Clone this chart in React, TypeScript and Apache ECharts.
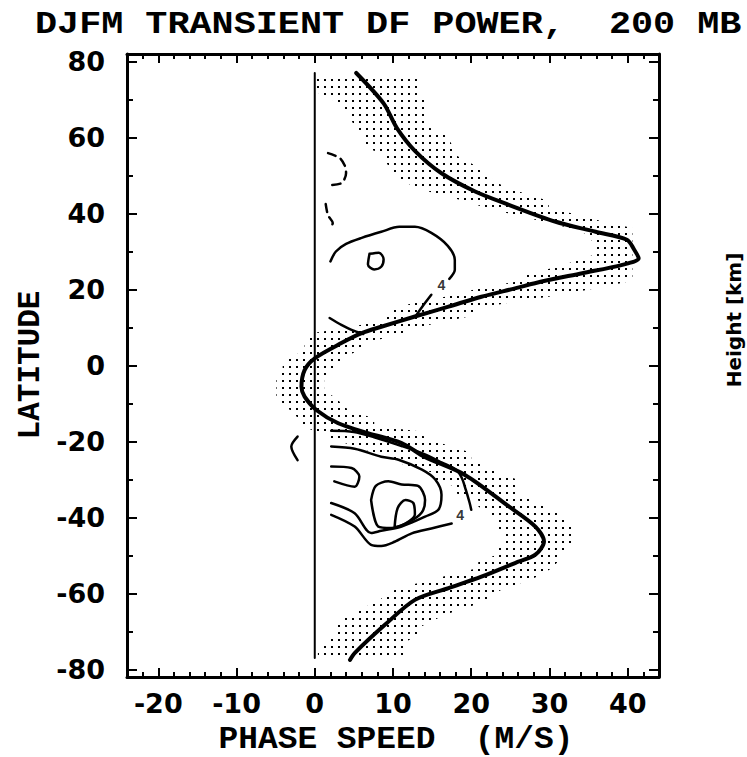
import React, { useEffect, useRef } from 'react';
import * as echarts from 'echarts';

const TITLE = 'DJFM TRANSIENT DF POWER,  200 MB';
const X_TITLE = 'PHASE SPEED  (M/S)';
const Y_TITLE = 'LATITUDE';
const SIDE_TITLE = 'Height [km]';

const X_MIN = -24;
const X_MAX = 44;
const Y_MIN = -82;
const Y_MAX = 82;
const xMajorTicks = [-20, -10, 0, 10, 20, 30, 40];
const xMinorTicks = [-24, -22, -20, -18, -16, -14, -12, -10, -8, -6, -4, -2, 0, 2, 4, 6, 8, 10, 12, 14, 16, 18, 20, 22, 24, 26, 28, 30, 32, 34, 36, 38, 40, 42, 44];
const yMajorTicks = [-80, -60, -40, -20, 0, 20, 40, 60, 80];
const yMinorTicks = [-80, -70, -60, -50, -40, -30, -20, -10, 0, 10, 20, 30, 40, 50, 60, 70, 80];

// Mean-flow profile, north to south: latitude (deg) and speed (m/s)
const profileLat = [77.0, 69.0, 62.5, 56.5, 50.6, 45.8, 42.3, 37.9, 35.2, 33.1, 30.6, 28.2, 26.5, 24.3, 22.1, 20.3, 18.1, 15.5, 12.9, 10.2, 8.5, 5.9, 1.9, -1.2, -5.6, -8.2, -11.7, -15.2, -17.8, -20.4, -24.0, -28.8, -37.1, -42.4, -46.3, -49.8, -52.0, -55.6, -58.6, -61.7, -68.2, -75.7, -77.5];
const profileSpeed = [5.3, 8.8, 10.5, 12.8, 16.2, 20.5, 24.8, 30.7, 35.9, 39.9, 40.8, 41.4, 39.3, 34.2, 29.0, 25.6, 21.3, 17.1, 12.8, 8.5, 6.0, 3.4, 0.0, -1.3, -1.7, -1.3, 0.2, 3.0, 6.8, 11.1, 14.0, 19.2, 24.8, 28.2, 29.3, 28.2, 25.6, 21.3, 17.1, 12.8, 9.0, 5.1, 4.5];

// Stippled band: latitude with its west and east edges (m/s)
const bandLat = [76.2, 71.8, 69.9, 66.4, 62.7, 61.0, 57.4, 55.7, 53.9, 51.9, 48.5, 46.8, 45.0, 43.3, 41.5, 39.8, 38.0, 36.2, 34.4, 31.0, 29.3, 27.5, 25.8, 24.0, 22.3, 20.5, 18.5, 16.8, 15.0, 13.2, 11.3, 9.5, 8.5, 5.9, 4.1, 2.2, 0.4, -1.3, -3.3, -6.9, -8.6, -10.4, -12.1, -13.9, -15.9, -17.4, -19.2, -21.0, -23.0, -24.8, -26.6, -28.3, -30.1, -31.9, -33.6, -35.4, -37.1, -39.0, -41.0, -42.8, -44.6, -46.3, -48.1, -49.8, -51.6, -53.3, -55.1, -56.9, -58.6, -60.4, -62.1, -63.9, -65.6, -67.4, -69.1, -70.9, -72.9, -74.8, -77.0];
const bandWest = [-0.4, 0.4, 2.3, 4.3, 5.1, 6.0, 6.2, 9.0, 9.0, 9.6, 11.3, 13.0, 15.8, 19.2, 21.8, 25.2, 29.0, 32.5, 35.0, 35.9, 35.9, 33.3, 30.8, 26.5, 26.5, 21.2, 17.7, 13.3, 9.8, 9.8, 7.6, 2.6, -0.4, -1.3, -1.3, -3.0, -4.1, -4.1, -4.9, -4.9, -4.9, -3.8, -3.0, -2.1, -2.1, 0.4, 2.1, 4.7, 7.7, 10.5, 11.6, 15.4, 15.4, 18.0, 18.0, 20.9, 20.9, 22.2, 23.1, 23.1, 24.2, 24.2, 23.5, 23.3, 20.9, 20.9, 17.3, 13.9, 10.7, 9.0, 8.1, 6.0, 4.7, 3.0, 2.6, 2.6, 1.3, 0.4, 0.4];
const bandEast = [13.2, 13.2, 14.1, 14.1, 14.5, 16.8, 17.7, 17.7, 19.4, 21.1, 23.0, 24.5, 27.3, 29.9, 29.9, 33.3, 36.7, 40.6, 40.6, 40.6, 40.6, 40.6, 40.6, 40.6, 40.6, 36.3, 31.1, 25.6, 20.7, 20.5, 16.0, 11.9, 11.5, 6.4, 5.7, 3.8, 2.9, 2.1, 1.2, 1.2, 2.9, 3.4, 4.7, 7.6, 7.6, 13.6, 14.1, 17.0, 20.0, 20.0, 21.7, 23.4, 26.0, 26.0, 26.0, 27.7, 29.4, 31.1, 32.0, 32.9, 33.1, 33.1, 32.2, 31.6, 31.1, 30.3, 29.0, 26.9, 24.3, 22.6, 21.7, 19.2, 16.6, 14.9, 13.2, 13.2, 11.5, 11.5, 11.4];

// Zero phase-speed reference line
const zeroLine = [[0, -77], [0, 77]];

// Power contours as [speed, latitude] runs
const contoursSolid: number[][][] = [
  [[2.0, 27.4], [2.7, 30.0], [4.0, 32.0], [6.0, 33.6], [8.5, 35.2], [10.8, 36.5], [12.8, 36.5], [14.9, 34.9], [17.0, 31.5], [17.9, 27.8], [17.9, 25.2], [17.2, 22.8]],
  [[14.9, 18.6], [13.9, 15.9], [13.0, 13.3]],
  [[1.9, 12.5], [3.4, 10.7], [4.7, 9.4], [6.2, 8.3]],
  [[7.0, 29.4], [8.2, 29.7], [8.8, 28.0], [8.5, 26.0], [7.6, 25.3], [6.8, 26.6], [7.0, 29.4]],
  [[-2.2, -18.7], [-3.0, -21.3], [-2.2, -24.9]],
  [[2.1, -17.2], [5.0, -17.5], [7.6, -18.9], [11.1, -21.2], [13.7, -23.1], [16.2, -25.5], [18.1, -27.5], [18.8, -29.6], [19.3, -32.7], [19.8, -36.2], [20.0, -38.0]],
  [[17.5, -41.6], [14.9, -42.9], [12.4, -44.2], [10.2, -46.4], [8.5, -47.5], [7.2, -47.2], [5.1, -42.4], [2.1, -39.3]],
  [[2.1, -21.3], [5.1, -21.9], [8.5, -24.0], [10.7, -24.8], [13.7, -27.4], [15.4, -30.0], [16.2, -34.0], [15.8, -38.0], [14.1, -39.8], [11.1, -42.4], [8.5, -43.5], [7.2, -44.1], [5.1, -38.9], [2.1, -36.2]],
  [[2.1, -26.6], [4.7, -27.0], [5.7, -29.2], [5.1, -31.9], [2.5, -30.5]],
  [[7.2, -35.4], [7.8, -31.7], [9.4, -30.5], [11.1, -31.3], [13.2, -31.7], [14.1, -35.4], [13.7, -38.6], [12.0, -41.2], [9.8, -42.8], [8.1, -42.4], [7.2, -35.4]],
  [[10.2, -42.6], [10.6, -37.5], [11.6, -35.4], [12.6, -36.2], [12.8, -39.2], [11.6, -41.6], [10.2, -42.6]],
];
const contoursDashed: number[][][] = [
  [[1.7, 55.9], [3.2, 54.6], [3.9, 52.3], [4.0, 50.6], [3.4, 48.0], [1.7, 47.5]],
  [[1.4, 42.5], [1.7, 39.5], [2.3, 37.5], [1.9, 36.0]],
];
// Contour value tags
const contourTags = [[16.2, 20.8], [18.6, -39.7]];
const contourTagText = '4';

const MONO = 'Liberation Mono';
const SANS = 'DejaVu Sans';

const pair = (lat: number[], spd: number[]) => lat.map((y, i) => [spd[i], y]);

function makeStipple() {
  const c = document.createElement('canvas');
  c.width = 7;
  c.height = 7;
  const ctx = c.getContext('2d')!;
  ctx.fillStyle = '#000';
  ctx.fillRect(2, 2, 2, 2);
  return { image: c.toDataURL(), repeat: 'repeat', imageWidth: 7, imageHeight: 7 };
}

export default function App() {
  const ref = useRef<HTMLDivElement>(null);

  useEffect(() => {
    if (!ref.current) return;
    const chart = echarts.init(ref.current, undefined, { renderer: 'svg' });
    const stipple = makeStipple();

    const bandPolygon = [
      ...pair(bandLat, bandWest),
      ...pair(bandLat, bandEast).reverse(),
    ];

    const axisLine = { show: true, onZero: false, lineStyle: { color: '#000', width: 3 } };
    const tickStyle = { color: '#000', width: 2 };
    const labelStyle = { color: '#000', fontFamily: SANS, fontWeight: 'bold' as const, fontSize: 27 };

    const xAxisBase = { type: 'value' as const, min: X_MIN, max: X_MAX, gridIndex: 0, splitLine: { show: false } };
    const yAxisBase = { type: 'value' as const, min: Y_MIN, max: Y_MAX, gridIndex: 0, splitLine: { show: false } };

    const lineSeries = (data: number[][], width: number, dashed = false, z = 4) => ({
      type: 'line' as const,
      data,
      symbol: 'none',
      smooth: 0.3,
      silent: true,
      z,
      lineStyle: { color: '#000', width, type: dashed ? [8, 6] : 'solid', cap: 'round', join: 'round' },
    });

    chart.setOption({
      animation: false,
      backgroundColor: '#fff',
      grid: { left: 127, top: 54, width: 532, height: 623, containLabel: false },
      xAxis: [
        {
          ...xAxisBase, position: 'bottom', axisLine,
          axisTick: { show: true, inside: true, length: 9, customValues: xMajorTicks, lineStyle: tickStyle },
          axisLabel: { show: true, customValues: xMajorTicks, margin: 13, ...labelStyle },
        },
        {
          ...xAxisBase, position: 'bottom', axisLine: { show: false, onZero: false },
          axisTick: { show: true, inside: true, length: 5, customValues: xMinorTicks, lineStyle: tickStyle },
          axisLabel: { show: false },
        },
        {
          ...xAxisBase, position: 'top', axisLine,
          axisTick: { show: true, inside: true, length: 9, customValues: xMajorTicks, lineStyle: tickStyle },
          axisLabel: { show: false },
        },
        {
          ...xAxisBase, position: 'top', axisLine: { show: false, onZero: false },
          axisTick: { show: true, inside: true, length: 5, customValues: xMinorTicks, lineStyle: tickStyle },
          axisLabel: { show: false },
        },
      ],
      yAxis: [
        {
          ...yAxisBase, position: 'left', axisLine,
          axisTick: { show: true, inside: true, length: 10, customValues: yMajorTicks, lineStyle: tickStyle },
          axisLabel: { show: true, customValues: yMajorTicks, margin: 22, ...labelStyle },
        },
        {
          ...yAxisBase, position: 'left', axisLine: { show: false, onZero: false },
          axisTick: { show: true, inside: true, length: 6, customValues: yMinorTicks, lineStyle: tickStyle },
          axisLabel: { show: false },
        },
        {
          ...yAxisBase, position: 'right', axisLine,
          axisTick: { show: true, inside: true, length: 10, customValues: yMajorTicks, lineStyle: tickStyle },
          axisLabel: { show: false },
        },
        {
          ...yAxisBase, position: 'right', axisLine: { show: false, onZero: false },
          axisTick: { show: true, inside: true, length: 6, customValues: yMinorTicks, lineStyle: tickStyle },
          axisLabel: { show: false },
        },
      ],
      series: [
        {
          type: 'custom',
          silent: true,
          z: 1,
          data: [[0, 0]],
          renderItem: (_params: any, api: any) => ({
            type: 'polygon',
            shape: { points: bandPolygon.map((p) => api.coord(p)) },
            style: { fill: stipple, stroke: null },
          }),
        },
        lineSeries(zeroLine, 2, false, 3),
        lineSeries(pair(profileLat, profileSpeed), 4, false, 5),
        ...contoursSolid.map((c) => lineSeries(c, 2.5)),
        ...contoursDashed.map((c) => lineSeries(c, 2.5, true)),
        {
          type: 'scatter',
          data: contourTags,
          symbolSize: 0,
          silent: true,
          z: 6,
          label: {
            show: true, position: 'inside', formatter: () => contourTagText,
            color: '#000', fontFamily: MONO, fontWeight: 'bold', fontSize: 14,
          },
        },
      ],
      graphic: [
        {
          type: 'text', x: 35, y: 8, scaleX: 1.15,
          style: { text: TITLE, fill: '#000', font: `bold 32px "${MONO}"`, align: 'left', verticalAlign: 'top' },
        },
        {
          type: 'text', x: 396, y: 740, scaleX: 1.06,
          style: { text: X_TITLE, fill: '#000', font: `bold 31px "${MONO}"`, lineHeight: 26, align: 'center', verticalAlign: 'middle' },
        },
        {
          type: 'text', x: 30, y: 365, rotation: Math.PI / 2,
          style: { text: Y_TITLE, fill: '#000', font: `bold 31px "${MONO}"`, align: 'center', verticalAlign: 'middle' },
        },
        {
          type: 'text', x: 734, y: 320, rotation: Math.PI / 2,
          style: { text: SIDE_TITLE, fill: '#000', font: `bold 20px "${SANS}"`, align: 'center', verticalAlign: 'middle' },
        },
      ],
    });

    return () => chart.dispose();
  }, []);

  return <div ref={ref} style={{ position: 'absolute', left: 0, top: 0, width: 747, height: 757, background: '#fff' }} />;
}
